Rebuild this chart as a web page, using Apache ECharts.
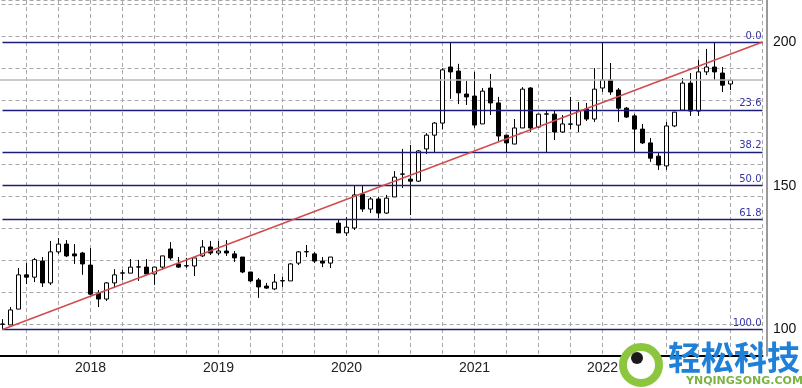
<!DOCTYPE html>
<html><head><meta charset="utf-8">
<script src="https://cdn.jsdelivr.net/npm/echarts@6/dist/echarts.min.js"></script>
<style>html,body{margin:0;padding:0;background:#fff}#c{width:802px;height:388px}</style>
</head><body><div id="c"></div>
<script>
// [open, close, low, high]
const candles = [
[101.8,101.9,100.0,103.6],[101.6,106.8,101.6,107.8],[107.1,119.0,107.1,121.4],[119.0,118.2,115.8,123.1],
[118.2,124.3,116.5,124.9],[123.8,116.2,114.8,125.2],[116.2,127.0,115.5,130.8],[127.0,129.7,126.3,131.8],
[129.7,125.6,125.2,131.1],[126.3,125.6,122.8,129.7],[126.6,122.8,119.0,127.0],[122.4,112.3,112.0,128.3],
[112.7,110.6,107.8,113.7],[110.6,116.2,109.9,116.5],[116.2,119.0,114.4,121.0],[119.6,119.7,117.2,120.7],
[119.6,121.7,119.6,124.5],[121.7,121.8,116.9,124.2],[121.7,119.3,119.3,124.5],[119.3,121.7,115.5,121.7],
[121.7,125.6,120.7,125.6],[128.0,124.9,124.2,130.4],[122.8,121.7,121.4,125.2],[122.1,122.2,121.4,124.9],
[122.1,124.9,118.6,124.9],[125.6,128.7,125.2,131.1],[128.7,126.6,125.9,130.8],[126.6,127.3,125.9,130.8],
[127.3,126.6,125.6,131.1],[126.3,124.9,123.5,127.3],[125.2,120.0,119.6,125.2],[120.0,116.9,116.5,120.0],
[117.2,114.8,111.0,117.9],[115.1,114.4,114.1,116.2],[114.1,116.5,113.7,119.3],[116.9,117.0,114.8,118.3],
[116.9,122.8,116.9,123.1],[123.1,127.0,122.4,127.3],[127.0,127.1,125.2,129.4],[126.3,123.8,123.1,127.0],
[123.8,123.1,121.7,125.2],[123.1,125.2,121.4,125.2],[137.0,133.6,133.6,138.1],[133.6,135.6,132.5,139.1],
[135.3,146.8,134.6,149.9],[147.1,141.9,140.9,149.9],[141.9,145.4,140.5,146.1],[145.4,140.5,138.8,146.1],
[140.5,145.7,140.2,146.8],[146.1,153.0,146.1,155.1],[154.0,154.1,149.2,162.8],[152.3,151.6,139.8,164.2],
[151.6,162.1,151.3,162.4],[162.8,167.6,161.0,168.3],[167.6,171.8,161.4,172.2],[171.8,190.3,169.7,190.9],
[191.3,189.6,180.2,200.0],[189.9,182.3,178.4,192.4],[181.9,180.9,178.1,186.4],[181.2,171.1,170.1,189.6],
[171.5,182.9,171.5,184.0],[184.0,178.8,174.6,188.9],[178.8,167.3,165.6,180.9],[167.6,164.9,161.7,167.6],
[164.5,170.1,164.5,173.2],[170.1,183.6,170.1,184.3],[184.0,170.1,168.7,184.3],[170.4,174.9,170.1,174.9],
[174.9,175.0,161.7,176.0],[174.9,168.7,165.9,176.3],[168.7,171.5,168.4,174.6],[171.5,171.4,169.7,180.9],
[171.1,176.0,168.7,179.1],[176.7,173.2,172.5,178.8],[173.2,183.6,172.2,190.9],[184.0,186.8,182.6,200.0],
[186.8,182.6,181.6,192.7],[183.3,177.0,172.2,184.0],[177.0,173.9,173.6,177.4],[174.3,169.7,161.7,174.9],
[169.7,164.9,164.5,171.5],[164.9,159.6,158.3,166.6],[160.3,157.2,155.5,161.7],[156.9,170.8,155.5,172.2],
[170.8,175.6,170.4,175.6],[176.3,185.7,176.3,187.5],[185.7,176.0,174.3,189.2],[176.0,189.6,174.3,193.7],
[189.6,191.3,188.5,197.6],[191.3,189.6,186.8,199.7],[189.2,185.0,182.6,191.3],[185.4,186.7,183.3,186.7]
];
const yearLabels = ['2018','2019','2020','2021','2022'];
const yearLabelBar = [11,27,43,59,75];
const fibHigh = 200, fibLow = 100;
const fibLevels = [0.0, 23.6, 38.2, 50.0, 61.8, 100.0];
const trendFrom = 100, trendTo = 200, trendEndBar = 95;
const priceTicks = [100, 150, 200];

const lead = 1;               // one empty slot before first bar
const slotCount = lead + 96;  // total category slots
const categories = Array.from({length: slotCount}, (_, i) => String(i - lead));
const labelAt = {};
yearLabelBar.forEach((b, i) => { labelAt[b + lead] = yearLabels[i]; });
const candleData = candles.map((c, i) => [i + lead, c[0], c[1], c[2], c[3]]);
const lastClose = candles[candles.length - 1][1];

const chart = echarts.init(document.getElementById('c'), null, {renderer: 'canvas'});
const grid = {left: -5.5, right: 39.5, top: 0, bottom: 32, containLabel: false, outerBoundsMode: 'none'};
const dash = {color: '#a8a8a8', width: 1, type: [4, 3]};

chart.setOption({
  animation: false,
  backgroundColor: '#fff',
  grid: grid,
  xAxis: [{
    type: 'category', data: categories, boundaryGap: false,
    axisLine: {show: true, onZero: false, lineStyle: {color: '#000', width: 2}},
    axisTick: {show: false},
    axisLabel: {
      interval: 0, margin: 5, color: '#222', fontSize: 14,
      fontFamily: 'Liberation Sans, Arial, sans-serif',
      formatter: (v, i) => labelAt[i] || ''
    },
    splitLine: {show: true, interval: (i) => i % 4 === 0 && i > 0, lineStyle: dash}
  }],
  yAxis: [{
    type: 'value', position: 'right', offset: 4.5,
    min: 90.78, max: 214.61, scale: true,
    axisLine: {show: true, lineStyle: {color: '#777', width: 1.5}},
    axisTick: {show: false},
    axisLabel: {customValues: priceTicks, color: '#111', fontSize: 14, margin: 6,
      fontFamily: 'Liberation Sans, Arial, sans-serif'},
    splitLine: {show: false}
  }, {
    type: 'value', position: 'left', min: -6, max: 350, interval: 32,
    axisLine: {show: false}, axisTick: {show: false}, axisLabel: {show: false},
    splitLine: {show: true, lineStyle: dash}
  }],
  series: [{
    type: 'candlestick', xAxisIndex: 0, yAxisIndex: 0,
    dimensions: ['x', 'open', 'close', 'lowest', 'highest'],
    encode: {x: 0, y: [1, 2, 3, 4]},
    data: candleData, barWidth: 5,
    itemStyle: {color: '#fff', color0: '#000', borderColor: '#000', borderColor0: '#000', borderWidth: 1},
    z: 3
  }, {
    type: 'line', data: [], xAxisIndex: 0, yAxisIndex: 0, z: 4,
    markLine: {
      silent: true, symbol: 'none', animation: false,
      lineStyle: {color: '#1c1c7a', width: 1.3, type: 'solid'},
      label: {show: true, position: 'insideEndTop', formatter: '{b}', color: '#3434a8',
        fontSize: 10, distance: 1, fontFamily: 'DejaVu Sans, sans-serif'},
      data: fibLevels.map(l => {
        const v = fibHigh - (fibHigh - fibLow) * l / 100;
        return [{name: l.toFixed(1), coord: [lead, v]}, {coord: [slotCount - 1, v]}];
      })
    }
  }, {
    type: 'line', data: [], xAxisIndex: 0, yAxisIndex: 0, z: 2,
    markLine: {
      silent: true, symbol: 'none', animation: false,
      lineStyle: {color: '#b8b8b8', width: 1.5, type: 'solid'},
      label: {show: false},
      data: [{yAxis: lastClose}]
    }
  }, {
    type: 'line', data: [], xAxisIndex: 0, yAxisIndex: 0, z: 5,
    markLine: {
      silent: true, symbol: 'none', animation: false,
      lineStyle: {color: '#d24a4a', width: 1.4, type: 'solid'},
      label: {show: false},
      data: [[{coord: [lead, trendFrom]}, {coord: [lead + trendEndBar, trendTo]}]]
    }
  }],
  graphic: [
    {type: 'circle', shape: {cx: 641, cy: 365, r: 18}, style: {fill: '#fff', stroke: '#8cc63f', lineWidth: 8}, z: 100},
    {type: 'circle', shape: {cx: 637, cy: 358, r: 6}, style: {fill: '#1a1a1a'}, z: 101},
    {type: 'text', x: 668, y: 341, style: {text: '轻松科技', fill: '#1f80d8', font: 'bold 33px "Noto Sans CJK SC"'}, z: 100},
    {type: 'text', x: 686, y: 376, style: {text: 'YNQINGSONG.COM', fill: '#7cb342', font: 'bold 11px "DejaVu Sans", sans-serif'}, z: 100}
  ]
});
</script></body></html>
